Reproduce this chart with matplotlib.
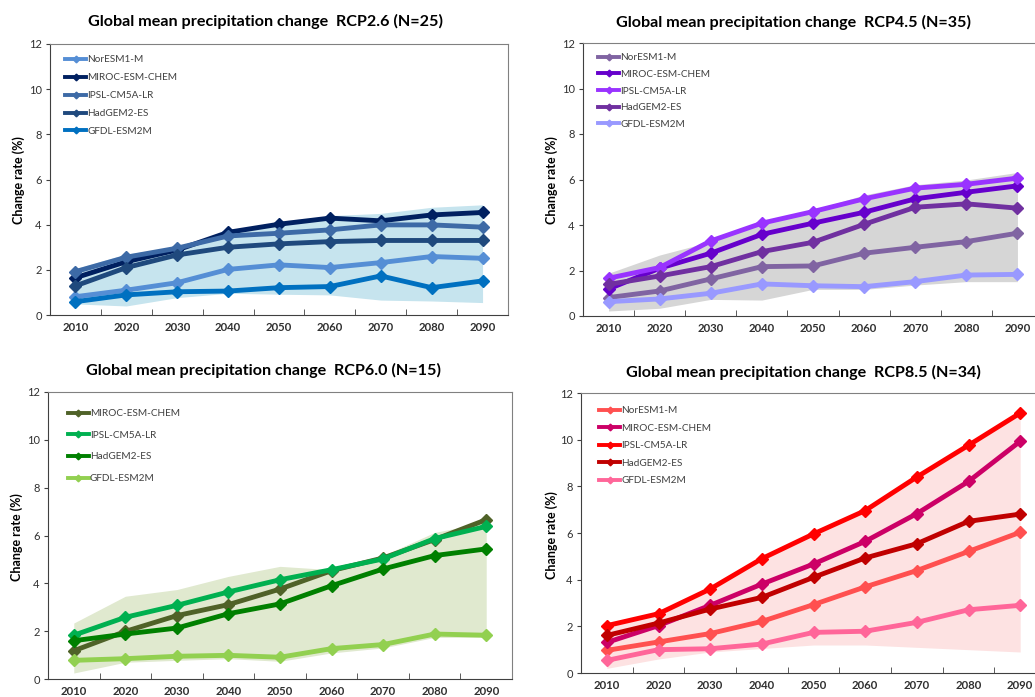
import numpy as np
import matplotlib.pyplot as plt
from matplotlib.lines import Line2D

plt.rcParams['font.family'] = ['Lato', 'DejaVu Sans']

W, H = 1035, 697

years = ['2010', '2020', '2030', '2040', '2050', '2060', '2070', '2080', '2090']

# RCP2.6
rcp26_noresm = [0.81, 1.10, 1.43, 2.02, 2.22, 2.10, 2.32, 2.59, 2.51]
rcp26_miroc = [1.65, 2.36, 2.88, 3.66, 4.02, 4.29, 4.17, 4.43, 4.54]
rcp26_ipsl = [1.92, 2.56, 2.96, 3.50, 3.62, 3.77, 3.99, 3.99, 3.89]
rcp26_hadgem = [1.29, 2.10, 2.66, 3.00, 3.15, 3.25, 3.30, 3.30, 3.30]
rcp26_gfdl = [0.59, 0.89, 1.03, 1.06, 1.21, 1.26, 1.73, 1.21, 1.51]
rcp26_hi = [2.05, 2.70, 3.00, 3.77, 4.10, 4.40, 4.50, 4.77, 4.88]
rcp26_lo = [0.49, 0.40, 0.77, 0.96, 0.92, 0.89, 0.66, 0.62, 0.55]

# RCP4.5
rcp45_noresm = [0.81, 1.10, 1.63, 2.17, 2.20, 2.76, 3.02, 3.27, 3.64]
rcp45_miroc = [1.19, 2.10, 2.76, 3.59, 4.08, 4.56, 5.15, 5.44, 5.72]
rcp45_ipsl = [1.66, 2.13, 3.30, 4.08, 4.59, 5.15, 5.62, 5.79, 6.06]
rcp45_hadgem = [1.39, 1.76, 2.17, 2.83, 3.24, 4.03, 4.78, 4.93, 4.74]
rcp45_gfdl = [0.63, 0.75, 1.00, 1.41, 1.33, 1.29, 1.51, 1.80, 1.83]
rcp45_hi = [1.88, 2.68, 3.27, 4.15, 4.66, 5.32, 5.77, 5.98, 6.31]
rcp45_lo = [0.22, 0.34, 0.73, 0.70, 1.17, 1.17, 1.36, 1.51, 1.51]

# RCP6.0
rcp60_miroc = [1.18, 1.99, 2.65, 3.11, 3.76, 4.53, 5.06, 5.83, 6.66]
rcp60_ipsl = [1.83, 2.58, 3.08, 3.64, 4.15, 4.57, 5.02, 5.87, 6.38]
rcp60_hadgem = [1.60, 1.88, 2.13, 2.73, 3.14, 3.90, 4.60, 5.16, 5.44]
rcp60_gfdl = [0.78, 0.85, 0.95, 0.99, 0.91, 1.27, 1.44, 1.88, 1.83]
rcp60_hi = [2.34, 3.46, 3.74, 4.29, 4.71, 4.57, 5.16, 6.13, 6.55]
rcp60_lo = [0.25, 0.70, 0.78, 0.85, 0.74, 1.09, 1.30, 1.74, 1.74]

# RCP8.5
rcp85_noresm = [0.97, 1.33, 1.69, 2.21, 2.93, 3.69, 4.39, 5.21, 6.03]
rcp85_miroc = [1.31, 2.03, 2.90, 3.81, 4.67, 5.64, 6.83, 8.21, 9.93]
rcp85_ipsl = [2.03, 2.54, 3.60, 4.90, 5.96, 6.96, 8.40, 9.76, 11.14]
rcp85_hadgem = [1.61, 2.14, 2.74, 3.24, 4.10, 4.93, 5.54, 6.50, 6.81]
rcp85_gfdl = [0.54, 1.00, 1.04, 1.24, 1.74, 1.79, 2.17, 2.71, 2.90]
rcp85_hi = [2.05, 2.56, 3.62, 4.92, 5.98, 6.98, 8.42, 9.78, 11.16]
rcp85_lo = [0.20, 0.60, 0.90, 1.05, 1.20, 1.20, 1.10, 1.00, 0.90]

fig = plt.figure(figsize=(W / 100, H / 100), dpi=100)


def panel(box, title, title_xy, models, lo, hi, band, ylab_xy, leg_anchor, leg_space):
    left, top, right, bottom = box
    ax = fig.add_axes([left / W, 1 - bottom / H, (right - left) / W, (bottom - top) / H])
    x = np.arange(len(years))
    ax.fill_between(x, lo, hi, color=band, lw=0, zorder=1)
    handles = []
    for name, vals, color in models:
        ax.plot(x, vals, color=color, lw=3.5, marker='D', ms=6.2, zorder=3)
        handles.append(Line2D([], [], color=color, lw=2.8, marker='D', ms=3.4, label=name))
    ax.set_xlim(-0.5, 8.5)
    ax.set_ylim(0, 12)
    ax.set_yticks(range(0, 13, 2))
    ax.set_xticks(x, years)
    ax.set_xticks(np.arange(0.5, 8, 1), minor=True)
    ax.tick_params(axis='x', which='major', length=0, pad=5, labelsize=8.2, labelcolor='#303030')
    ax.tick_params(axis='x', which='minor', direction='in', length=4, color='#404040')
    ax.tick_params(axis='y', length=3, pad=3, labelsize=8, color='#404040', labelcolor='#303030')
    for lbl in ax.get_xticklabels():
        lbl.set_fontweight('bold')
    for side in ['left', 'bottom']:
        ax.spines[side].set_color('#404040')
    for side in ['top', 'right']:
        ax.spines[side].set_color('#808080')
    ax.legend(handles=handles, loc='upper left', bbox_to_anchor=leg_anchor, frameon=False,
              fontsize=7.2, handlelength=2.1, handletextpad=0.1, labelspacing=leg_space,
              borderpad=0, borderaxespad=0, labelcolor='#404040')
    fig.text(title_xy[0] / W, 1 - title_xy[1] / H, title, ha='center', va='center',
             fontsize=11.6, fontweight='bold')
    fig.text(ylab_xy[0] / W, 1 - ylab_xy[1] / H, 'Change rate (%)', rotation=90,
             ha='center', va='center', fontsize=9, fontweight='bold')
    return ax


panel((50, 44, 508, 315), 'Global mean precipitation change  RCP2.6 (N=25)', (265, 21),
      [('NorESM1-M', rcp26_noresm, '#558ed5'),
       ('MIROC-ESM-CHEM', rcp26_miroc, '#002060'),
       ('IPSL-CM5A-LR', rcp26_ipsl, '#3d6aa6'),
       ('HadGEM2-ES', rcp26_hadgem, '#1f497d'),
       ('GFDL-ESM2M', rcp26_gfdl, '#0070c0')],
      rcp26_lo, rcp26_hi, '#c6e4ee', (19, 180), (0.033, 0.958), 0.89)

panel((583, 43, 1043, 316), 'Global mean precipitation change  RCP4.5 (N=35)', (793, 22),
      [('NorESM1-M', rcp45_noresm, '#8064a2'),
       ('MIROC-ESM-CHEM', rcp45_miroc, '#6600cc'),
       ('IPSL-CM5A-LR', rcp45_ipsl, '#9933ff'),
       ('HadGEM2-ES', rcp45_hadgem, '#7030a0'),
       ('GFDL-ESM2M', rcp45_gfdl, '#9999ff')],
      rcp45_lo, rcp45_hi, '#d6d6d6', (552, 180), (0.033, 0.962), 0.76)

panel((48, 392, 512, 679), 'Global mean precipitation change  RCP6.0 (N=15)', (263, 370),
      [('MIROC-ESM-CHEM', rcp60_miroc, '#4f6228'),
       ('IPSL-CM5A-LR', rcp60_ipsl, '#00b050'),
       ('HadGEM2-ES', rcp60_hadgem, '#008000'),
       ('GFDL-ESM2M', rcp60_gfdl, '#92d050')],
      rcp60_lo, rcp60_hi, '#e0e9cf', (17, 537), (0.043, 0.94), 1.26)

panel((581, 393, 1046, 673), 'Global mean precipitation change  RCP8.5 (N=34)', (803, 372),
      [('NorESM1-M', rcp85_noresm, '#ff5050'),
       ('MIROC-ESM-CHEM', rcp85_miroc, '#cc0066'),
       ('IPSL-CM5A-LR', rcp85_ipsl, '#ff0000'),
       ('HadGEM2-ES', rcp85_hadgem, '#c00000'),
       ('GFDL-ESM2M', rcp85_gfdl, '#ff6699')],
      rcp85_lo, rcp85_hi, '#fde2e2', (552, 535), (0.039, 0.952), 0.84)

fig.savefig('out.png', dpi=100)
